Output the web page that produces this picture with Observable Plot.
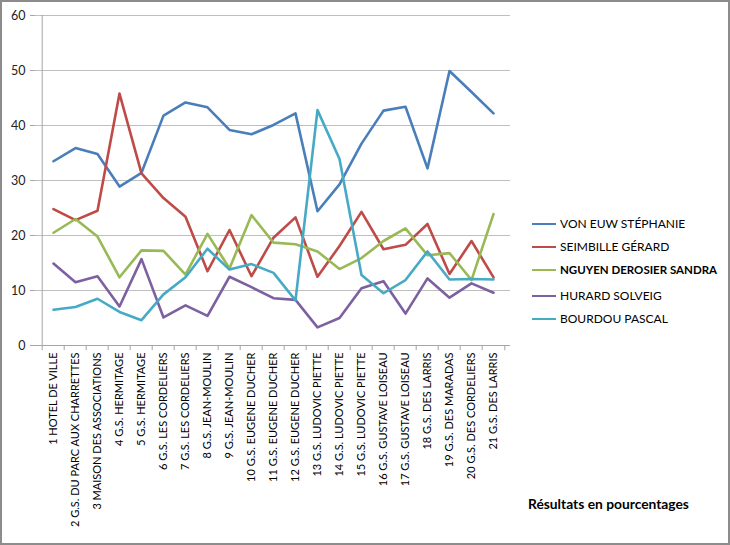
<!DOCTYPE html>
<html>
<head>
<meta charset="utf-8">
<script src="https://cdn.jsdelivr.net/npm/d3@7"></script>
<script src="https://cdn.jsdelivr.net/npm/@observablehq/plot@0.6"></script>
<style>
  body { margin: 0; background: #fff; }
  #wrap { position: relative; width: 730px; height: 545px; font-family: Lato, "Open Sans", sans-serif; }
  #chart { position: absolute; left: 0; top: 0; }
  #border { position: absolute; left: 0; top: 0; width: 730px; height: 545px; box-sizing: border-box; border: 2px solid #8c8c8c; pointer-events: none; }
  .leg { position: absolute; left: 532px; font-size: 12px; color: #000; white-space: nowrap; }
  .leg span.sw { display: inline-block; width: 24px; height: 2.5px; vertical-align: middle; margin-right: 4px; position: relative; top: -1px; }
  #caption { position: absolute; left: 528px; top: 495px; font-size: 13.8px; font-weight: bold; }
</style>
</head>
<body>
<div id="wrap">
  <div id="chart"></div>
  <div id="legend"></div>
  <div id="caption">Résultats en pourcentages</div>
  <div id="border"></div>
</div>
<script>
const categories = [
  "1 HOTEL DE VILLE",
  "2 G.S. DU PARC AUX CHARRETTES",
  "3 MAISON DES ASSOCIATIONS",
  "4 G.S. HERMITAGE",
  "5 G.S. HERMITAGE",
  "6 G.S. LES CORDELIERS",
  "7 G.S. LES CORDELIERS",
  "8 G.S. JEAN-MOULIN",
  "9 G.S. JEAN-MOULIN",
  "10 G.S. EUGENE DUCHER",
  "11 G.S. EUGENE DUCHER",
  "12 G.S. EUGENE DUCHER",
  "13 G.S. LUDOVIC PIETTE",
  "14 G.S. LUDOVIC PIETTE",
  "15 G.S. LUDOVIC PIETTE",
  "16 G.S. GUSTAVE LOISEAU",
  "17 G.S. GUSTAVE LOISEAU",
  "18 G.S. DES LARRIS",
  "19 G.S. DES MARADAS",
  "20 G.S. DES CORDELIERS",
  "21 G.S. DES LARRIS"
];
const seriesNames = ["VON EUW STÉPHANIE", "SEIMBILLE GÉRARD", "NGUYEN DEROSIER SANDRA", "HURARD SOLVEIG", "BOURDOU PASCAL"];
const vonEuw    = [33.5, 35.9, 34.8, 28.9, 31.4, 41.8, 44.2, 43.3, 39.2, 38.4, 40.1, 42.2, 24.4, 29.3, 36.7, 42.7, 43.4, 32.2, 49.9, 46.1, 42.2];
const seimbille = [24.8, 22.8, 24.5, 45.8, 31.3, 26.8, 23.4, 13.5, 21.0, 12.6, 19.6, 23.3, 12.5, 18.1, 24.3, 17.5, 18.3, 22.1, 13.0, 19.0, 12.4];
const nguyen    = [20.5, 23.0, 19.8, 12.4, 17.3, 17.2, 12.9, 20.3, 14.0, 23.7, 18.7, 18.4, 17.1, 13.9, 15.9, 19.0, 21.3, 16.4, 16.8, 11.9, 23.9];
const hurard    = [14.9, 11.5, 12.6, 7.1, 15.7, 5.1, 7.3, 5.4, 12.5, 10.6, 8.6, 8.3, 3.3, 5.0, 10.4, 11.7, 5.8, 12.2, 8.7, 11.3, 9.6];
const bourdou   = [6.5, 7.0, 8.5, 6.1, 4.6, 9.3, 12.4, 17.6, 13.8, 14.8, 13.2, 8.2, 42.8, 33.9, 12.8, 9.5, 11.9, 17.1, 12.0, 12.1, 12.0];
const colors = ["#4A7EBB", "#BE4B48", "#98B954", "#7D60A0", "#46AAC5"];
const yTicks = [0, 10, 20, 30, 40, 50, 60];

const allSeries = [vonEuw, seimbille, nguyen, hurard, bourdou];
const data = [];
allSeries.forEach((vals, si) => vals.forEach((v, i) => data.push({name: seriesNames[si], cat: categories[i], value: v})));

const W = 730, H = 545, ML = 35, MR = 220, MT = 15, MB = 200;
const halfBand = (W - ML - MR) / categories.length / 2;
const axisGray = "#a6a6a6";

const plot = Plot.plot({
  width: W, height: H,
  marginLeft: ML, marginRight: MR, marginTop: MT, marginBottom: MB,
  style: {fontFamily: "Lato, 'Open Sans', sans-serif", background: "transparent", overflow: "visible"},
  x: {type: "point", domain: categories, padding: 0.5, label: null},
  y: {domain: [0, 60], label: null},
  color: {domain: seriesNames, range: colors},
  marks: [
    Plot.gridY(yTicks.slice(1), {stroke: "#bfbfbf", strokeOpacity: 1}),
    Plot.ruleY([0], {stroke: axisGray}),
    Plot.ruleX([categories[0]], {y1: 0, y2: 60, dx: -halfBand, stroke: axisGray}),
    Plot.ruleX(categories, {y1: 0, y2: -0.95, dx: -halfBand, stroke: axisGray}),
    Plot.ruleX([categories[categories.length - 1]], {y1: 0, y2: -0.95, dx: halfBand, stroke: axisGray}),
    Plot.axisY(yTicks, {tickSize: 5, tickPadding: 5, fontSize: 12.5, stroke: axisGray, color: "#222", label: null}),
    Plot.axisX({tickSize: 0, tickPadding: 7, tickRotate: -90, fontSize: 11, color: "#000", label: null}),
    Plot.line(data, {x: "cat", y: "value", z: "name", stroke: "name", strokeWidth: 2.6, strokeLinejoin: "round", strokeLinecap: "round"})
  ]
});
document.getElementById("chart").appendChild(plot);

const legendTops = [216, 239, 263, 288, 311];
const legend = document.getElementById("legend");
seriesNames.forEach((n, i) => {
  const d = document.createElement("div");
  d.className = "leg";
  d.style.top = legendTops[i] + "px";
  if (i === 2) { d.style.fontWeight = "bold"; d.style.fontSize = "11.5px"; }
  d.innerHTML = `<span class="sw" style="background:${colors[i]}"></span>${n}`;
  legend.appendChild(d);
});
</script>
</body>
</html>
